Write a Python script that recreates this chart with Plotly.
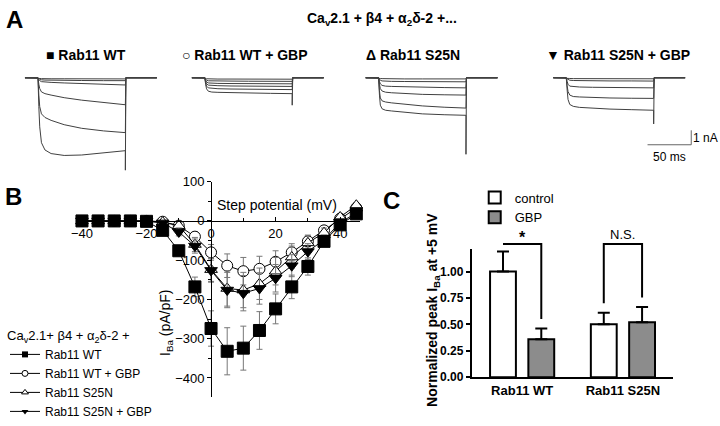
import plotly.graph_objects as go

W, H = 720, 426
FONT = "Liberation Sans, Arial, sans-serif"

# ---------------- Panel A : current traces (nA vs ms) ----------------
T_MS = [0, 1, 2, 4, 8, 15, 30, 50, 75, 100]
T_PRE = -15
T_POST = 136
A_LABELS = ["■ Rab11 WT", "○ Rab11 WT + GBP", "Δ Rab11 S25N", "▼ Rab11 S25N + GBP"]

WT_TRACES = [
    [0, -0.03, -0.05, -0.06, -0.07, -0.07, -0.07, -0.08, -0.08, -0.08],
    [0, -0.06, -0.10, -0.14, -0.16, -0.17, -0.18, -0.19, -0.20, -0.20],
    [0, -0.12, -0.20, -0.27, -0.30, -0.32, -0.36, -0.41, -0.46, -0.50],
    [0, -0.45, -0.75, -0.98, -1.10, -1.20, -1.38, -1.55, -1.72, -1.87],
    [0, -1.20, -2.00, -2.50, -2.75, -2.95, -3.25, -3.50, -3.68, -3.80],
    [0, -2.00, -3.40, -4.50, -5.00, -5.25, -5.38, -5.35, -5.22, -5.05],
]
WT_GBP_TRACES = [
    [0, -0.04, -0.07, -0.08, -0.09, -0.09, -0.09, -0.10, -0.10, -0.10],
    [0, -0.10, -0.17, -0.21, -0.22, -0.23, -0.23, -0.24, -0.25, -0.25],
    [0, -0.18, -0.29, -0.36, -0.38, -0.39, -0.40, -0.41, -0.42, -0.42],
    [0, -0.26, -0.42, -0.51, -0.54, -0.55, -0.57, -0.58, -0.59, -0.60],
    [0, -0.36, -0.58, -0.70, -0.74, -0.76, -0.78, -0.80, -0.81, -0.82],
    [0, -0.48, -0.77, -0.93, -0.99, -1.01, -1.04, -1.06, -1.08, -1.10],
]
S25N_TRACES = [
    [0, -0.03, -0.05, -0.06, -0.07, -0.07, -0.08, -0.08, -0.08, -0.08],
    [0, -0.10, -0.17, -0.22, -0.24, -0.25, -0.26, -0.27, -0.27, -0.28],
    [0, -0.25, -0.42, -0.53, -0.58, -0.60, -0.63, -0.66, -0.68, -0.70],
    [0, -0.45, -0.75, -0.92, -1.00, -1.04, -1.10, -1.15, -1.18, -1.20],
    [0, -0.90, -1.40, -1.60, -1.68, -1.74, -1.84, -1.95, -2.04, -2.10],
    [0, -1.20, -1.90, -2.15, -2.25, -2.30, -2.40, -2.50, -2.56, -2.60],
]
S25N_GBP_TRACES = [
    [0, -0.03, -0.04, -0.05, -0.06, -0.06, -0.06, -0.07, -0.07, -0.07],
    [0, -0.08, -0.13, -0.17, -0.19, -0.20, -0.21, -0.22, -0.22, -0.23],
    [0, -0.25, -0.45, -0.58, -0.62, -0.64, -0.66, -0.68, -0.69, -0.70],
    [0, -0.55, -0.95, -1.20, -1.30, -1.33, -1.37, -1.40, -1.42, -1.43],
    [0, -0.85, -1.50, -1.85, -1.98, -2.05, -2.12, -2.17, -2.21, -2.25],
]
A_TRACES = [WT_TRACES, WT_GBP_TRACES, S25N_TRACES, S25N_GBP_TRACES]
A_TAILS = [-6.4, -1.9, -5.3, -3.2]
SCALE_MS = 50
SCALE_NA = 1

# ---------------- Panel B : I-V curves (pA/pF vs mV) ----------------
V_MV = [-40, -35, -30, -25, -20, -15, -10, -5, 0, 5, 10, 15, 20, 25, 30, 35, 40, 45]
B_NAMES = ["Rab11 WT", "Rab11 WT + GBP", "Rab11 S25N", "Rab11 S25N + GBP"]
IV_WT = [0, 0, 0, 0, -1, -24, -76, -168, -274, -332, -324, -279, -224, -168, -116, -52, -10, 18]
IV_WT_GBP = [0, 0, 0, 0, 0, -2, -12, -40, -80, -114, -128, -122, -104, -80, -52, -24, 6, 33]
IV_S25N = [0, 0, 0, 0, 0, -3, -12, -60, -124, -172, -176, -160, -128, -92, -56, -30, 10, 40]
IV_S25N_GBP = [0, 0, 0, 0, -1, -5, -28, -64, -126, -176, -184, -172, -146, -114, -78, -48, -4, 20]
ERR_WT = [2, 2, 2, 2, 3, 6, 12, 25, 45, 60, 56, 48, 38, 30, 22, 12, 6, 5]
ERR_WT_GBP = [2, 2, 2, 2, 2, 3, 6, 12, 20, 30, 35, 32, 28, 22, 14, 8, 5, 5]
ERR_S25N = [2, 2, 2, 2, 2, 3, 8, 18, 30, 45, 45, 40, 35, 28, 20, 12, 6, 6]
ERR_S25N_GBP = [2, 2, 2, 2, 2, 3, 10, 18, 30, 45, 45, 40, 35, 28, 20, 12, 6, 6]

# ---------------- Panel C : normalized peak current ----------------
C_GROUPS = ["Rab11 WT", "Rab11 S25N"]
C_CONTROL = [1.00, 0.50]
C_CONTROL_ERR = [0.19, 0.11]
C_GBP = [0.36, 0.52]
C_GBP_ERR = [0.10, 0.145]
C_SIG = ["*", "N.S."]


def dom_x(left, right):
    return [left / W, right / W]


def dom_y(top, bottom):
    return [1 - bottom / H, 1 - top / H]


def paper_text(text, px, py, size, bold=False, angle=0, xanchor="center"):
    fig.add_annotation(x=px / W, y=1 - py / H, xref="paper", yref="paper", text=text,
                       showarrow=False, xanchor=xanchor, yanchor="middle", textangle=angle,
                       font=dict(family=FONT, size=size, color="black",
                                 weight="bold" if bold else "normal"))


fig = go.Figure()

# ---- Panel A layout geometry ----
A_LEFT = [20, 188, 363, 552]
A_LABEL_X = [82, 242, 411, 617]
PX_PER_MS = 0.88
A_XR = [-15, 150]
A_YR = [-7.0, 0.6]
A_YDOM = dom_y(65.8, 182.1)
TRACE_COLOR = "#404040"

for i, traces in enumerate(A_TRACES):
    ax = "" if i == 0 else str(i + 1)
    biggest = min(range(len(traces)), key=lambda k: traces[k][-1])
    for k, vals in enumerate(traces):
        tail = A_TAILS[i] if k == biggest else vals[-1]
        xs = [T_PRE] + T_MS + [T_MS[-1], T_MS[-1] + 0.6, T_POST]
        ys = [0] + vals + [tail, 0, 0]
        fig.add_trace(go.Scatter(x=xs, y=ys, mode="lines", xaxis="x" + ax, yaxis="y" + ax,
                                 line=dict(color=TRACE_COLOR, width=1), showlegend=False,
                                 hoverinfo="skip"))
    left = A_LEFT[i]
    fig.update_layout(**{
        "xaxis" + ax: dict(domain=dom_x(left, left + (A_XR[1] - A_XR[0]) * PX_PER_MS),
                           range=A_XR, visible=False, anchor="y" + ax),
        "yaxis" + ax: dict(domain=A_YDOM, range=A_YR, visible=False, anchor="x" + ax),
    })
    paper_text(A_LABELS[i], A_LABEL_X[i], 51, 14, bold=True)

# scale bar in panel 4
SB_T_END = 143
SB_I = -4.64
fig.add_trace(go.Scatter(x=[SB_T_END - SCALE_MS, SB_T_END, SB_T_END],
                         y=[SB_I, SB_I, SB_I + SCALE_NA], mode="lines",
                         xaxis="x4", yaxis="y4", line=dict(color="#666", width=1),
                         showlegend=False, hoverinfo="skip"))
fig.add_annotation(x=SB_T_END, y=SB_I + SCALE_NA / 2, xref="x4", yref="y4",
                   text=f"{SCALE_NA} nA", showarrow=False, xanchor="left", yanchor="middle",
                   xshift=1, borderpad=0, font=dict(family=FONT, size=12, color="black"))
fig.add_annotation(x=SB_T_END - SCALE_MS / 2, y=SB_I, xref="x4", yref="y4",
                   text=f"{SCALE_MS} ms", showarrow=False, xanchor="center", yanchor="top",
                   yshift=-3, font=dict(family=FONT, size=12, color="black"))

# ---- Panel B ----
B_XR = [-42, 46]
B_YR = [-448, 100]
B_XDOM = dom_x(71, 357)
B_YDOM = dom_y(185.1, 413.1)
x0_pos = B_YDOM[0] + (0 - B_YR[0]) / (B_YR[1] - B_YR[0]) * (B_YDOM[1] - B_YDOM[0])
y0_pos = B_XDOM[0] + (0 - B_XR[0]) / (B_XR[1] - B_XR[0]) * (B_XDOM[1] - B_XDOM[0])

B_SERIES = [
    (B_NAMES[1], IV_WT_GBP, ERR_WT_GBP, dict(symbol="circle", size=11, color="white",
                                              line=dict(color="black", width=1))),
    (B_NAMES[2], IV_S25N, ERR_S25N, dict(symbol="triangle-up", size=11, color="white",
                                         line=dict(color="black", width=1))),
    (B_NAMES[3], IV_S25N_GBP, ERR_S25N_GBP, dict(symbol="triangle-down", size=11, color="black",
                                                 line=dict(color="black", width=1))),
    (B_NAMES[0], IV_WT, ERR_WT, dict(symbol="square", size=12, color="black",
                                     line=dict(color="black", width=1))),
]
for name, vals, err, mk in B_SERIES:
    fig.add_trace(go.Scatter(x=V_MV, y=vals, mode="lines+markers", name=name,
                             xaxis="x5", yaxis="y5", marker=mk,
                             line=dict(color="black", width=1),
                             error_y=dict(type="data", array=err, color="#777",
                                          thickness=1, width=3),
                             showlegend=False, cliponaxis=False))

LEG_MARKERS = [
    dict(symbol="square", size=6, color="black"),
    dict(symbol="circle", size=6, color="white", line=dict(color="black", width=1)),
    dict(symbol="triangle-up", size=6, color="white", line=dict(color="black", width=1)),
    dict(symbol="triangle-down", size=6, color="black"),
]
for name, mk in zip(B_NAMES, LEG_MARKERS):
    fig.add_trace(go.Scatter(x=[None], y=[None], mode="lines+markers", name=name,
                             xaxis="x5", yaxis="y5", marker=mk,
                             line=dict(color="black", width=1), legend="legend"))

fig.update_layout(
    xaxis5=dict(domain=B_XDOM, range=B_XR, anchor="free", position=x0_pos,
                showline=True, linecolor="black", linewidth=1, ticks="inside",
                ticklen=4, tickcolor="black", tickvals=[-40, -20, 0, 20, 40],
                minor=dict(dtick=10, tick0=0, ticks="inside", ticklen=3, tickcolor="black"),
                showgrid=False, zeroline=False,
                tickfont=dict(family=FONT, size=13, color="black")),
    yaxis5=dict(domain=B_YDOM, range=B_YR, anchor="free", position=y0_pos,
                showline=True, linecolor="black", linewidth=1, ticks="outside",
                ticklen=4, tickcolor="black", tickvals=[-400, -300, -200, -100, 0, 100],
                minor=dict(dtick=50, tick0=0, ticks="outside", ticklen=3, tickcolor="black"),
                showgrid=False, zeroline=False,
                tickfont=dict(family=FONT, size=13, color="black")),
)
paper_text("Step potential (mV)", 274, 210, 14)
paper_text("I<sub>Ba</sub> (pA/pF)", 162, 335, 14, angle=-90)

# ---- Panel C ----
C_XDOM = dom_x(470, 673)
C_BOTTOM = 392.3
C_PX_PER_UNIT = 112
C_YR = [0, 1.21]
C_YR_TOP = [0, 1.4]
BARGAP = 0.24
fig.add_trace(go.Bar(x=C_GROUPS, y=C_CONTROL, name="control", xaxis="x6", yaxis="y6",
                     marker=dict(color="white", line=dict(color="black", width=2)),
                     error_y=dict(type="data", array=C_CONTROL_ERR, arrayminus=[0, 0],
                                  symmetric=False, color="black", thickness=2, width=6),
                     legend="legend2"))
fig.add_trace(go.Bar(x=C_GROUPS, y=C_GBP, name="GBP", xaxis="x6", yaxis="y6",
                     marker=dict(color="#8c8c8c", line=dict(color="black", width=2)),
                     error_y=dict(type="data", array=C_GBP_ERR, arrayminus=[0, 0],
                                  symmetric=False, color="black", thickness=2, width=6),
                     legend="legend2"))

# significance brackets (overlay axes with same scale, taller domain)
off = (1 - BARGAP) / 4
BRACKET_Y = 1.26
BRACKET_GAP = 0.09
for gi in range(len(C_GROUPS)):
    top_c = C_CONTROL[gi] + C_CONTROL_ERR[gi]
    top_g = C_GBP[gi] + C_GBP_ERR[gi]
    yl = min(top_c + BRACKET_GAP, BRACKET_Y)
    yr = min(top_g + BRACKET_GAP, BRACKET_Y)
    fig.add_trace(go.Scatter(x=[gi - off, gi - off, gi + off, gi + off],
                             y=[yl, BRACKET_Y, BRACKET_Y, yr], mode="lines",
                             xaxis="x7", yaxis="y7", line=dict(color="black", width=2),
                             showlegend=False, hoverinfo="skip"))
    star = C_SIG[gi] == "*"
    fig.add_annotation(x=gi, y=BRACKET_Y, xref="x7", yref="y7", text=C_SIG[gi],
                       showarrow=False, xanchor="center", yanchor="bottom",
                       yshift=-3 if star else 1, borderpad=0,
                       font=dict(family=FONT, size=16 if star else 13,
                                 color="black", weight="bold" if star else "normal"))

fig.update_layout(
    xaxis6=dict(domain=C_XDOM, anchor="y6", showline=True, linecolor="black", linewidth=2,
                ticks="", showgrid=False, range=[-0.5, 1.5],
                tickfont=dict(family=FONT, size=13, color="black", weight="bold")),
    yaxis6=dict(domain=dom_y(C_BOTTOM - C_YR[1] * C_PX_PER_UNIT, C_BOTTOM), range=C_YR,
                anchor="x6", showline=True, linecolor="black", linewidth=2,
                ticks="outside", ticklen=4, tickwidth=2, tickcolor="black",
                tickvals=[0, 0.25, 0.5, 0.75, 1.0], tickformat=".2f",
                showgrid=False, zeroline=False,
                tickfont=dict(family=FONT, size=12, color="black", weight="bold")),
    xaxis7=dict(domain=C_XDOM, range=[-0.5, 1.5], anchor="y7", visible=False),
    yaxis7=dict(domain=dom_y(C_BOTTOM - C_YR_TOP[1] * C_PX_PER_UNIT, C_BOTTOM),
                range=C_YR_TOP, anchor="x7", visible=False),
    barmode="group", bargap=BARGAP, bargroupgap=0.325,
)
paper_text("Normalized peak I<sub>Ba</sub> at +5 mV", 431, 321, 14, bold=True, angle=-90)

# ---- Titles / panel letters ----
paper_text("Ca<sub>v</sub>2.1 + β4 + α<sub>2</sub>δ-2 +...", 380, 13, 14, bold=True)
for letter, px, py in [("A", 10, 13), ("B", 9, 201), ("C", 389, 205)]:
    paper_text(letter, px, py, 24, bold=True)

fig.update_layout(
    width=W, height=H, margin=dict(l=0, r=0, t=0, b=0),
    paper_bgcolor="white", plot_bgcolor="rgba(0,0,0,0)",
    legend=dict(x=0.0, y=1 - 335 / H, xanchor="left", yanchor="top",
                title=dict(text="Ca<sub>v</sub>2.1+ β4 + α<sub>2</sub>δ-2 +",
                           font=dict(family=FONT, size=13, color="black")),
                font=dict(family=FONT, size=12, color="black"),
                bgcolor="rgba(0,0,0,0)", itemsizing="trace", tracegroupgap=0),
    legend2=dict(x=473 / W, y=1 - 186 / H, xanchor="left", yanchor="top",
                 font=dict(family=FONT, size=13, color="black"),
                 bgcolor="rgba(0,0,0,0)", tracegroupgap=0),
    showlegend=True,
)

fig.write_html("out.html", config={"displayModeBar": False},
               post_script="document.body.style.margin='0';document.body.style.overflow='hidden';")
